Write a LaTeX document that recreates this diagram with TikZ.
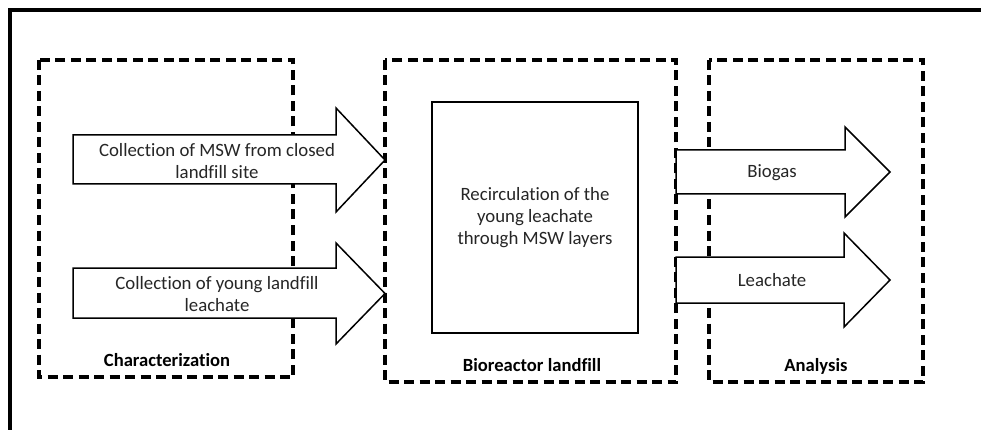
\documentclass[tikz,border=0pt]{standalone}
\usepackage{fontspec}
\setmainfont{Carlito}[Ligatures=NoCommon]
\begin{document}
\begin{tikzpicture}[x=1pt,y=-1pt,
  groupbox/.style={draw=black,line width=3.6pt,dash pattern=on 10pt off 5.5pt},
  blockarrow/.style={draw=black,fill=white,line width=1.5pt,line join=miter},
  innerbox/.style={draw=black,fill=white,line width=1.5pt},
  txt/.style={align=center,font=\fontsize{18.8}{22}\selectfont,inner sep=0pt,text=black!85},
  lbl/.style={font=\bfseries\fontsize{18.6}{22}\selectfont,inner sep=0pt}]
\useasboundingbox (0,0) rectangle (981,430);
% outer frame
\draw[line width=3.8pt] (10,440) -- (10,10) -- (990,10);
% group boxes
\draw[groupbox] (39,60) rectangle (293,377);
\draw[groupbox] (385,60) rectangle (676,382);
\draw[groupbox] (709,60) rectangle (923,382);
% inner box
\draw[innerbox] (432,102) rectangle (638,333);
\node[txt] (recirc) at (535,218) {Recirculation of the\\young leachate\\through MSW layers};
% input arrows
\draw[blockarrow] (73,135) -- (336,135) -- (336,108) -- (385,160) -- (336,212) -- (336,184) -- (73,184) -- cycle;
\node[txt] (msw) at (217,161) {Collection of MSW from closed\\landfill site};
\draw[blockarrow] (73,268) -- (336,268) -- (336,243) -- (385,293.5) -- (336,344) -- (336,318) -- (73,318) -- cycle;
\node[txt] (young) at (217,294) {Collection of young landfill\\leachate};
% output arrows
\draw[blockarrow] (676,150) -- (845,150) -- (845,127) -- (890,172) -- (845,217) -- (845,194) -- (676,194) -- cycle;
\node[txt] (biogas) at (772,173) {Biogas};
\draw[blockarrow] (676,257) -- (844,257) -- (844,233) -- (890,280) -- (844,327) -- (844,303) -- (676,303) -- cycle;
\node[txt] (leach) at (772,280) {Leachate};
% labels
\node[lbl] (char) at (167,360) {Characterization};
\node[lbl] (bio) at (532,365) {Bioreactor landfill};
\node[lbl] (ana) at (816,366) {Analysis};
\end{tikzpicture}
\end{document}
